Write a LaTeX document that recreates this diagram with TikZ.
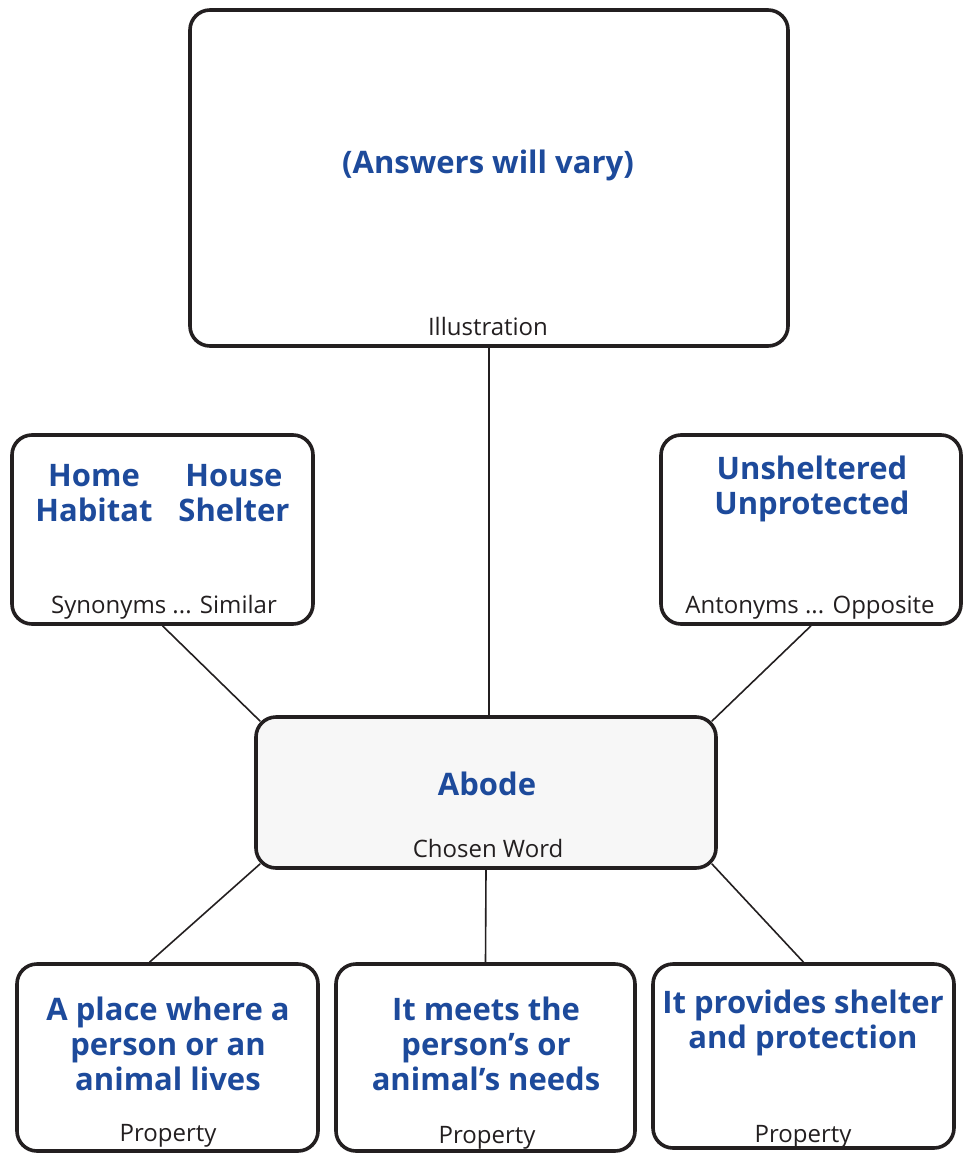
\documentclass[tikz,border=0pt]{standalone}
\usepackage{fontspec}
\setmainfont{Open Sans}
\usetikzlibrary{positioning}
\definecolor{wordblue}{HTML}{1D4A9B}
\definecolor{inkblack}{HTML}{231F20}

\begin{document}
\begin{tikzpicture}[x=1pt,y=-1pt,
                box/.style={draw=inkblack,line width=3.6pt,rounded corners=20pt,fill=white,inner sep=0pt},
                answer/.style={text=wordblue,font=\fontsize{31}{35}\selectfont\bfseries,align=center},
                caption/.style={text=inkblack,font=\fontsize{24}{28}\selectfont,anchor=base,inner sep=0pt},
                link/.style={draw=inkblack,line width=1.6pt}]

  \useasboundingbox (0,0) rectangle (964,1156);

  % boxes
  \node[box,minimum width=598pt,minimum height=336pt] (ill) at (489,178) {};
  \node[box,minimum width=301pt,minimum height=189pt] (syn) at (162.5,529.5) {};
  \node[box,minimum width=300pt,minimum height=189pt] (ant) at (811,529.5) {};
  \node[box,fill=black!3,minimum width=460pt,minimum height=151pt] (word) at (486,792.5) {};
  \node[box,minimum width=301pt,minimum height=187pt] (p1) at (167.5,1057.5) {};
  \node[box,minimum width=299pt,minimum height=187pt] (p2) at (485.5,1057.5) {};
  \node[box,minimum width=301pt,minimum height=184pt] (p3) at (803.5,1056) {};

  % answers
  \node[answer] (illtext) at (488,165) {(Answers will vary)};
  \node[answer] (syntext1) at (94,493) {Home\\Habitat};
  \node[answer] (syntext2) at (234,493) {House\\Shelter};
  \node[answer] (anttext) at (812,489) {Unsheltered\\Unprotected};
  \node[answer] (wordtext) at (487,784) {Abode};
  \node[answer] (p1text) at (168,1044) {A place where a\\person or an\\animal lives};
  \node[answer] (p2text) at (486,1044) {It meets the\\person’s or\\animal’s needs};
  \node[answer] (p3text) at (803,1023) {It provides shelter\\and protection};

  % captions
  \node[caption] (illcap) at (488,335) {Illustration};
  \node[caption] (syncap) at (164,613) {Synonyms ... Similar};
  \node[caption] (antcap) at (810,613) {Antonyms ... Opposite};
  \node[caption] (wordcap) at (488,857) {Chosen Word};
  \node[caption] (p1cap) at (168,1141) {Property};
  \node[caption] (p2cap) at (487,1143) {Property};
  \node[caption] (p3cap) at (803,1142) {Property};

  \path[link]
    (ill.south) edge (ill.south |- word.north)
    (syn.south) edge ([shift={(6,6)}]word.north west)
    (ant.south) edge ([shift={(-6,6)}]word.north east)
    ([shift={(6,-6)}]word.south west) edge ([xshift=-18pt]p1.north)
    (word.south) edge (p2.north)
    ([shift={(-6,-6)}]word.south east) edge (p3.north);

\end{tikzpicture}
\end{document}
